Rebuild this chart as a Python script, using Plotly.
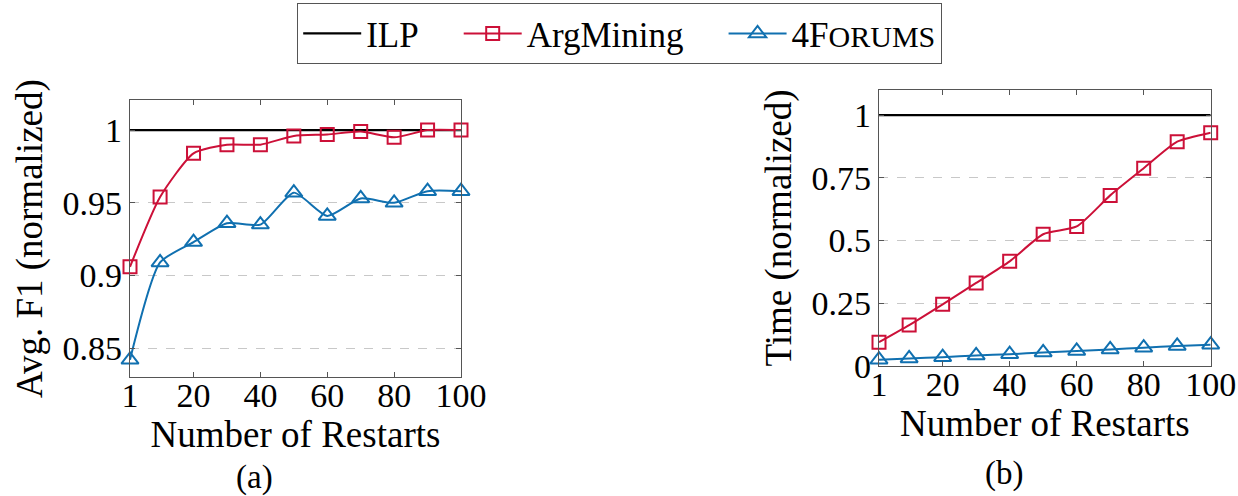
import plotly.graph_objects as go

restarts = [1, 10, 20, 30, 40, 50, 60, 70, 80, 90, 100]

# (a) Avg. F1 (normalized)
f1_ilp = [1.0] * len(restarts)
f1_argmining = [0.906, 0.954, 0.984, 0.990, 0.990, 0.996, 0.997, 0.999, 0.995, 1.0, 1.0]
f1_4forums = [0.842, 0.909, 0.923, 0.936, 0.935, 0.957, 0.941, 0.953, 0.950, 0.958, 0.958]

# (b) Time (normalized)
t_ilp = [1.0] * len(restarts)
t_argmining = [0.095, 0.163, 0.246, 0.331, 0.417, 0.525, 0.556, 0.68, 0.788, 0.894, 0.93]
t_4forums = [0.025, 0.03, 0.035, 0.042, 0.047, 0.054, 0.06, 0.066, 0.073, 0.08, 0.085]

x_ticks = [1, 20, 40, 60, 80, 100]
f1_ticks = [0.85, 0.9, 0.95, 1]
f1_ticktext = ["0.85", "0.9", "0.95", "1"]
t_ticks = [0, 0.25, 0.5, 0.75, 1]
t_ticktext = ["0", "0.25", "0.5", "0.75", "1"]

RED = "#cc1038"
BLUE = "#1070b0"
FONT = "Liberation Serif"
W, H = 1238, 496
NB = "\u00a0"

fig = go.Figure()

def add_series(xa, ya, ilp, arg, forums, show):
    fig.add_trace(go.Scatter(x=restarts, y=ilp, mode="lines", name="ILP" + NB * 4,
                             line=dict(color="black", width=2.2), xaxis=xa, yaxis=ya,
                             showlegend=show, cliponaxis=False))
    fig.add_trace(go.Scatter(x=restarts, y=arg, mode="lines+markers", name="ArgMining" + NB * 4,
                             line=dict(color=RED, width=2, shape="spline", smoothing=0.6),
                             marker=dict(symbol="square-open", size=13, color=RED,
                                         line=dict(width=2, color=RED)),
                             xaxis=xa, yaxis=ya, showlegend=show, cliponaxis=False))
    fig.add_trace(go.Scatter(x=restarts, y=forums, mode="lines+markers",
                             name="4F<span style='font-size:30px'>ORUMS</span>",
                             line=dict(color=BLUE, width=2, shape="spline", smoothing=0.6),
                             marker=dict(symbol="triangle-up-open", size=15, color=BLUE,
                                         line=dict(width=2, color=BLUE)),
                             xaxis=xa, yaxis=ya, showlegend=show, cliponaxis=False))

add_series("x", "y", f1_ilp, f1_argmining, f1_4forums, True)
add_series("x2", "y2", t_ilp, t_argmining, t_4forums, False)

axis_common = dict(showline=True, linecolor="#555555", linewidth=1.2, mirror="allticks",
                   ticks="inside", ticklen=5, tickcolor="#555555", zeroline=False,
                   automargin=False,
                   tickfont=dict(family=FONT, size=34, color="black"))

xdom1 = [130 / W, 461 / W]
ydom1 = [1 - 377.3 / H, 1 - 100 / H]
xdom2 = [879 / W, 1210.7 / W]
ydom2 = [1 - 366 / H, 1 - 90 / H]

title_font = dict(family=FONT, size=37, color="black")

fig.update_layout(
    template="none",
    width=W, height=H,
    margin=dict(l=0, r=0, t=0, b=0, pad=0),
    paper_bgcolor="white", plot_bgcolor="white",
    font=dict(family=FONT, color="black"),
    xaxis=dict(domain=xdom1, anchor="y", range=[1, 100], tickvals=x_ticks, showgrid=False,
               ticklabelstandoff=-12,
               title=dict(text="Number of Restarts", font=title_font, standoff=0), **axis_common),
    yaxis=dict(domain=ydom1, anchor="x", range=[0.83, 1.0207], tickvals=f1_ticks,
               ticktext=f1_ticktext, showgrid=True, gridcolor="#c8c8c8", griddash="dash",
               gridwidth=1,
               title=dict(text="Avg. F1 (normalized)", font=title_font, standoff=8), **axis_common),
    xaxis2=dict(domain=xdom2, anchor="y2", range=[1, 100], tickvals=x_ticks, showgrid=False,
                ticklabelstandoff=-12,
                title=dict(text="Number of Restarts", font=title_font, standoff=0), **axis_common),
    yaxis2=dict(domain=ydom2, anchor="x2", range=[0, 1.1], tickvals=t_ticks,
                ticktext=t_ticktext, showgrid=True, gridcolor="#c8c8c8", griddash="dash",
                gridwidth=1,
                title=dict(text="Time (normalized)", font=title_font, standoff=8), **axis_common),
    legend=dict(orientation="h", x=297 / W, y=1 - 3 / H, xanchor="left", yanchor="top",
                bordercolor="#555555", borderwidth=1.2, bgcolor="white",
                font=dict(family=FONT, size=35, color="black"), itemwidth=58),
    annotations=[
        dict(text="(a)", x=254 / W, y=1 - 477 / H, xref="paper", yref="paper",
             showarrow=False, font=dict(family=FONT, size=33, color="black"),
             xanchor="center", yanchor="middle"),
        dict(text="(b)", x=1004 / W, y=1 - 473 / H, xref="paper", yref="paper",
             showarrow=False, font=dict(family=FONT, size=33, color="black"),
             xanchor="center", yanchor="middle"),
    ],
)

fig.write_html("out.html")
